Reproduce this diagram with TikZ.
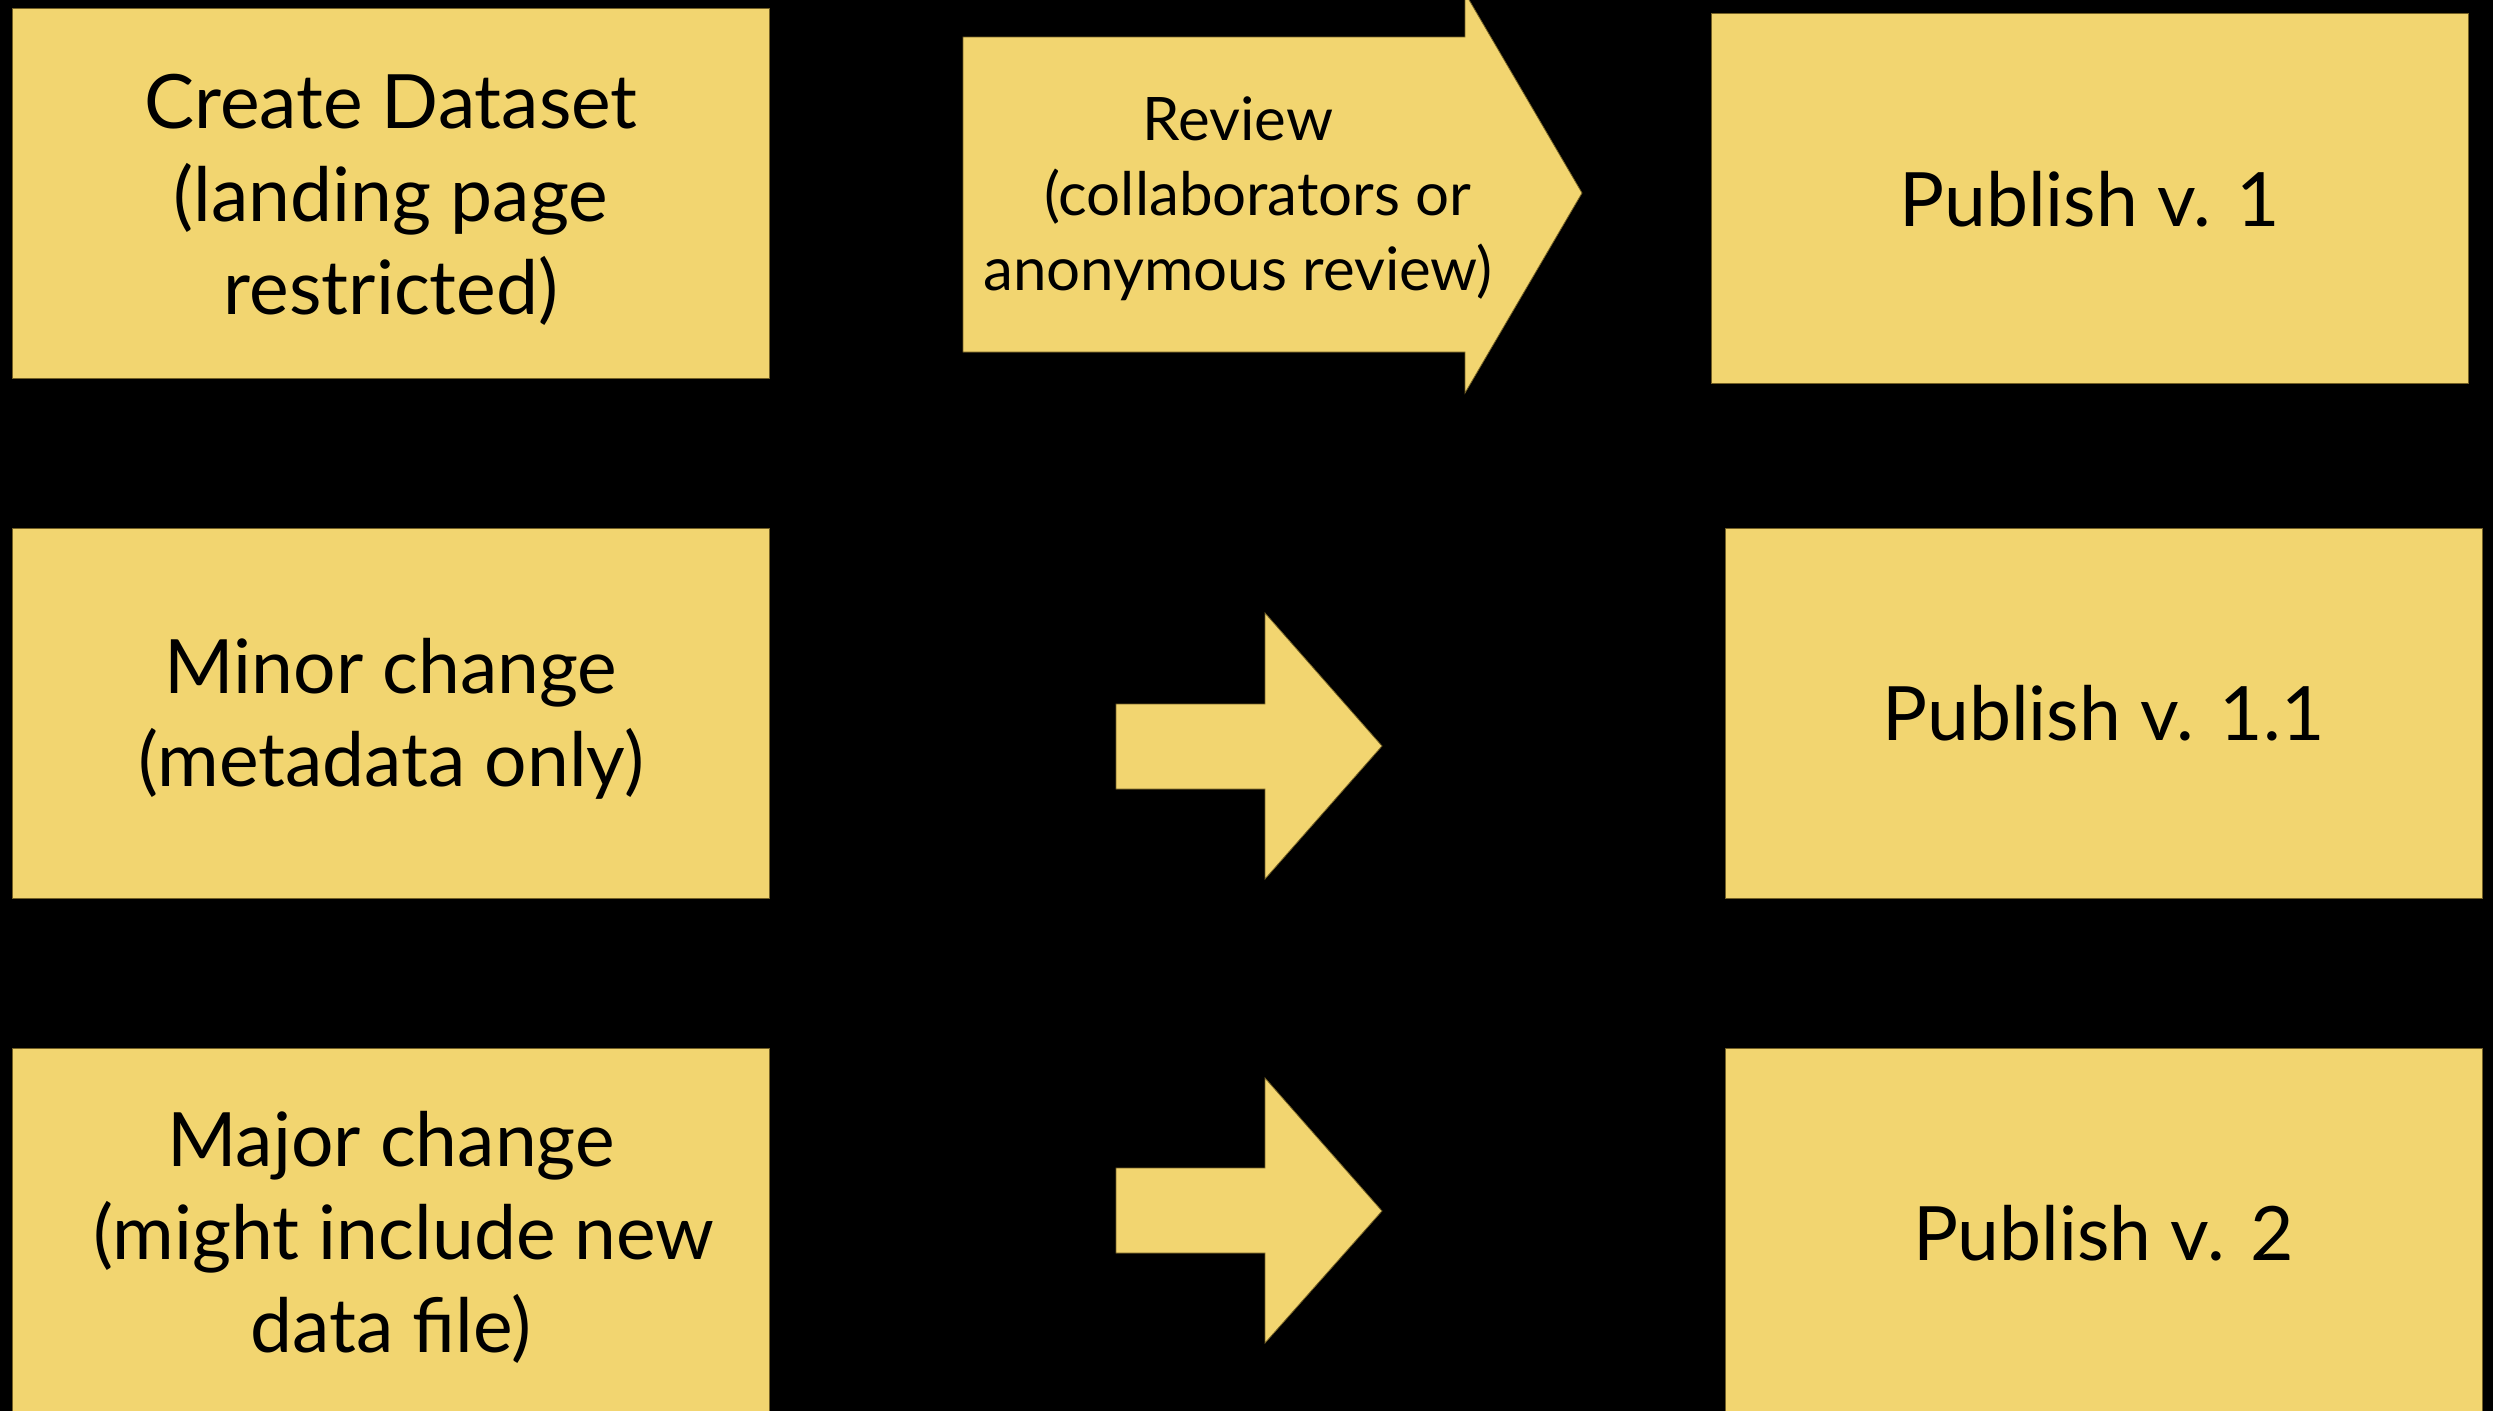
\documentclass[tikz,border=0pt]{standalone}
\usepackage{fontspec}
\setmainfont{Lato}
\usetikzlibrary{calc}

\definecolor{paper}{RGB}{242,213,112}
\definecolor{paperedge}{RGB}{115,96,38}

\tikzset{
  card/.style={rectangle, fill=paper, draw=paperedge, line width=0.8pt,
               inner sep=0pt, minimum width=757pt, minimum height=370pt},
  blockarrow/.style={fill=paper, draw=paperedge, line width=0.8pt, line join=miter},
  bigtext/.style={align=center, inner sep=0pt, text=black,
                  font=\fontsize{75}{93}\selectfont},
  smalltext/.style={align=center, inner sep=0pt, text=black,
                    font=\fontsize{60}{75}\selectfont},
}

\begin{document}
\begin{tikzpicture}[x=1pt, y=-1pt]
  \useasboundingbox (0,0) rectangle (2493,1411);
  \fill[black] (0,0) rectangle (2493,1411);
  \clip (0,0) rectangle (2493,1411);

  % left column: starting points
  \node[card] (create) at (391,193.5) {};
  \node[card] (minor)  at (391,713) {};
  \node[card] (major)  at (391,1233) {};

  % right column: published versions
  \node[card] (pub1)  at (2090,198) {};
  \node[card] (pub11) at (2103.5,713) {};
  \node[card] (pub2)  at (2103.5,1233) {};

  % review step, a large block arrow
  \coordinate (rv) at (963,37);
  \draw[blockarrow] (rv) -- ++(502,0) -- ++(0,-44) -- (1582,193)
        -- (1465,393) -- (1465,352) -- (963,352) -- cycle;

  % plain block arrows for the later versions
  \coordinate (am) at (1116,704);
  \draw[blockarrow] (am) -- ++(149,0) -- ++(0,-91) -- (1382,746)
        -- (1265,879) -- (1265,789) -- (1116,789) -- cycle;
  \coordinate (aj) at (1116,1168);
  \draw[blockarrow] (aj) -- ++(149,0) -- ++(0,-90) -- (1382,1211)
        -- (1265,1343) -- (1265,1253) -- (1116,1253) -- cycle;

  % labels
  \node[bigtext] (t-create) at ($(create.center)+(0,6)$)
    {Create Dataset\\(landing page\\restricted)};
  \node[bigtext] (t-minor) at ($(minor.center)+(0,6)$)
    {Minor change\\(metadata only)};
  \node[bigtext] (t-major) at ($(major.center)+(0,4)$)
    {Major change\\\hspace*{26pt}(might include new\\data file)};
  \node[bigtext] (t-pub1) at ($(pub1.center)+(0,1)$) {Publish v. 1};
  \node[bigtext] (t-pub11) at (pub11.center) {Publish v. 1.1};
  \node[bigtext] (t-pub2) at (pub2.center) {Publish v. 2};
  \node[smalltext] (t-review) at (1238,199)
    {Review\\\hspace*{40pt}(collaborators or\\anonymous review)};
\end{tikzpicture}
\end{document}
